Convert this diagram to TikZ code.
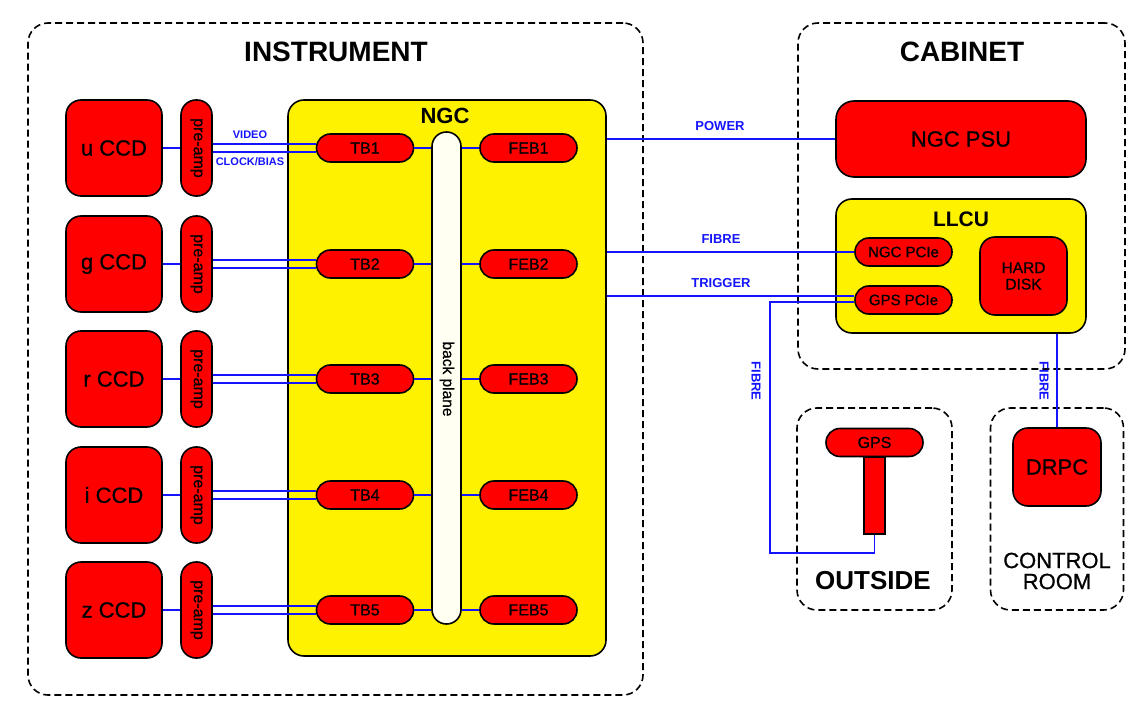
\documentclass[tikz,border=0pt]{standalone}
\usepackage{fontspec}
\setmainfont{Liberation Sans}
\newfontfamily\medf[FakeBold=0.8]{Liberation Sans}
\definecolor{wireblue}{RGB}{20,20,255}
\definecolor{bpfill}{RGB}{255,255,242}
\newcommand{\fsz}[1]{\fontsize{#1}{#1}\selectfont}
\begin{document}
\begin{tikzpicture}[x=1pt,y=-1pt,
  blk/.style={draw=black, line width=1.6pt, inner sep=0pt, fill=red},
  zone/.style={draw=black, line width=1.6pt, dash pattern=on 7pt off 4pt, rounded corners=20pt, inner sep=0pt},
  wire/.style={draw=wireblue, line width=1.5pt},
  wlab/.style={text=wireblue, font=\bfseries\fsz{13}, inner sep=0pt},
  title/.style={font=\bfseries\fsz{28}, inner sep=0pt},
  ccdbox/.style={blk, minimum width=96pt, minimum height=96pt, rounded corners=15pt, font=\medf\fsz{22}},
  pabox/.style={blk, minimum width=31pt, minimum height=96pt, rounded corners=15pt},
  pill/.style={blk, minimum width=97pt, minimum height=28pt, rounded corners=13.9pt, font=\medf\fsz{16}},
  ybox/.style={draw=black, line width=1.6pt, fill=yellow, inner sep=0pt}
]
\useasboundingbox (0,0) rectangle (1126,708);

% zones
\node[zone, minimum width=615pt, minimum height=672pt] (instr) at (335.5,359) {};
\node[zone, minimum width=327pt, minimum height=346pt] (cab) at (961.5,196) {};
\node[zone, minimum width=155pt, minimum height=202pt] (outs) at (874.5,509) {};
\node[zone, minimum width=133pt, minimum height=202pt] (ctrl) at (1057,509) {};

\node[title] (tinstr) at (336,52) {INSTRUMENT};
\node[title] (tcab) at (962,52) {CABINET};
\node[font=\bfseries\fsz{26}, inner sep=0pt] (touts) at (873,581) {OUTSIDE};
\node[font=\medf\fsz{22}, inner sep=0pt, align=center] (tctrl) at (1057,571) {CONTROL\\[-1pt]ROOM};

% NGC
\node[ybox, minimum width=318pt, minimum height=556pt, rounded corners=16pt] (ngc) at (447,378) {};
\node[font=\bfseries\fsz{22}, inner sep=0pt] (tngc) at (445,116) {NGC};
\node[draw=black, line width=1.6pt, fill=bpfill, inner sep=0pt, minimum width=29pt, minimum height=492pt, rounded corners=14.4pt] (bp) at (446.5,378) {};
\node[rotate=-90, font=\medf\fsz{15.5}, inner sep=0pt] (tbp) at (447,379) {back plane};

\foreach \n/\l/\yy in {1/u/148,2/g/264,3/r/379,4/i/495,5/z/610} {
  \node[ccdbox] (ccd\n) at (114,\yy) {\l\ CCD};
  \node[pabox] (pa\n) at (196.5,\yy) {};
  \node[rotate=-90, font=\medf\fsz{16}, inner sep=0pt] (pat\n) at (pa\n) {pre-amp};
  \node[pill] (tb\n) at (365,\yy) {TB\n};
  \node[pill] (feb\n) at (528.5,\yy) {FEB\n};
  \draw[wire] (ccd\n.east) -- (pa\n.west);
  \draw[wire] ([yshift=4pt]pa\n.east) -- ([yshift=4pt]tb\n.west);
  \draw[wire] ([yshift=-4pt]pa\n.east) -- ([yshift=-4pt]tb\n.west);
  \draw[wire] (tb\n.east) -- (tb\n.east -| bp.west);
  \draw[wire] (bp.east |- feb\n.west) -- (feb\n.west);
}
\node[wlab, font=\bfseries\fsz{11}] (lvid) at (250,135) {VIDEO};
\node[wlab, font=\bfseries\fsz{11}] (lclk) at (250,162) {CLOCK/BIAS};

% cabinet
\node[blk, minimum width=250pt, minimum height=76pt, rounded corners=18pt, font=\medf\fsz{22}] (psu) at (961,139) {NGC PSU};
\node[ybox, minimum width=250pt, minimum height=134pt, rounded corners=16pt] (llcu) at (961,266) {};
\node[font=\bfseries\fsz{21}, inner sep=0pt] (tllcu) at (961,219) {LLCU};
\node[pill, font=\medf\fsz{15}] (npcie) at (903.5,252) {NGC PCIe};
\node[pill, font=\medf\fsz{15}] (gpcie) at (903.5,300) {GPS PCIe};
\node[blk, minimum width=87pt, minimum height=78pt, rounded corners=15pt, font=\medf\fsz{15.5}, align=center] (hd) at (1023.5,276) {HARD\\[1pt]DISK};

% outside / control room
\node[blk, minimum width=21pt, minimum height=77pt] (mast) at (874.5,495.5) {};
\node[pill, font=\medf\fsz{16}] (gps) at (874.5,442.5) {GPS};
\node[blk, minimum width=88pt, minimum height=78pt, rounded corners=15pt, font=\medf\fsz{22}] (drpc) at (1057,467) {DRPC};

% wires right side
\draw[wire] (psu.west) -- (psu.west -| ngc.east);
\draw[wire] (npcie.west) -- (npcie.west -| ngc.east);
\draw[wire] ([yshift=4pt]gpcie.west) -- ([yshift=4pt]gpcie.west -| ngc.east);
\coordinate (bend) at (770,553);
\draw[wire] ([yshift=-2pt]gpcie.west) -| (bend) -| (mast.south);
\draw[wire] (drpc.north) -- (drpc.north |- llcu.south);

\node[wlab] (lpow) at (720,126) {POWER};
\node[wlab] (lfib) at (721,239) {FIBRE};
\node[wlab] (ltrig) at (721,283) {TRIGGER};
\node[wlab, rotate=-90] (lfib2) at (756,381) {FIBRE};
\node[wlab, rotate=-90] (lfib3) at (1044,381) {FIBRE};
\end{tikzpicture}
\end{document}
